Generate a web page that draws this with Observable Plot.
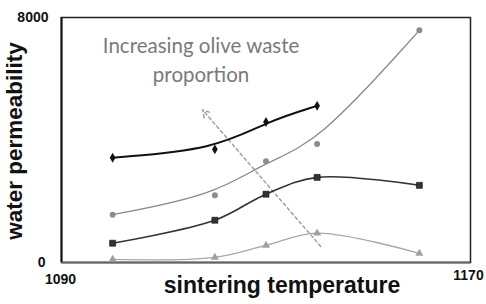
<!DOCTYPE html>
<html><head><meta charset="utf-8">
<script src="https://cdn.jsdelivr.net/npm/d3@7"></script>
<script src="https://cdn.jsdelivr.net/npm/@observablehq/plot@0.6"></script>
<style>
html,body{margin:0;padding:0;background:#fff;}
</style></head><body><div id="chart"></div>
<script>
const temps = [1100, 1120, 1130, 1140, 1160];
const diamondValues = [3420, 3695, 4590, 5115];
const circleValues = [1560, 2200, 3310, 3870, 7580];
const squareValues = [630, 1380, 2230, 2780, 2520];
const triangleValues = [100, 170, 560, 960, 300];
const xTicks = [1090, 1170];
const yTicks = [0, 8000];
const xLabel = "sintering temperature";
const yLabel = "water permeability";
const noteLines = ["Increasing olive waste", "proportion"];
const notePos = [1117.3, 7500];
const arrowFrom = [1140.7, 525];
const arrowTo = [1117.6, 4984];

const rows = (vals) => vals.map((v, i) => ({t: temps[i], v}));
const dia = rows(diamondValues), cir = rows(circleValues), sq = rows(squareValues), tri = rows(triangleValues);

const tickStyle = {tickSize: 0, fontSize: 14, fontWeight: "bold", label: null, fill: "#111", tickFormat: (d) => String(d)};

const chart = Plot.plot({
  width: 486, height: 304,
  marginLeft: 61, marginRight: 16, marginTop: 17, marginBottom: 42,
  x: {domain: [1090, 1170]},
  y: {domain: [0, 8000]},
  style: {fontFamily: "'Liberation Sans', Arial, sans-serif", background: "white"},
  marks: [
    Plot.frame({stroke: "#222", strokeWidth: 1.5}),
    Plot.ruleY([0], {stroke: "#666", strokeWidth: 2}),
    Plot.ruleX([1090], {stroke: "#111", strokeWidth: 2}),
    Plot.axisX([xTicks[0]], {...tickStyle, tickPadding: 12, dx: -1}),
    Plot.axisX([xTicks[1]], {...tickStyle, tickPadding: 8, dx: -2}),
    Plot.axisY([yTicks[0]], {...tickStyle, tickPadding: 16}),
    Plot.axisY([yTicks[1]], {...tickStyle, tickPadding: 13}),
    Plot.text([yLabel], {frameAnchor: "left", textAnchor: "middle", rotate: -90, dx: -47, dy: 1, fontSize: 22.5, fontWeight: "bold", fill: "#111"}),
    Plot.text([xLabel], {frameAnchor: "bottom", textAnchor: "middle", dy: 30, dx: 16, fontSize: 23, fontWeight: "bold", fill: "#111"}),
    Plot.text([noteLines.join("\n")], {x: () => notePos[0], y: () => notePos[1], textAnchor: "middle", lineAnchor: "top", lineHeight: 1.39, fontSize: 20.5, fontFamily: "Lato, 'Open Sans', sans-serif", fill: "#7a7a7a"}),
    Plot.arrow([0], {x1: () => arrowFrom[0], y1: () => arrowFrom[1], x2: () => arrowTo[0], y2: () => arrowTo[1], stroke: "#a0a0a0", strokeWidth: 1.5, strokeDasharray: "3,3", headLength: 8, bend: 0}),
    Plot.line(tri, {x: "t", y: "v", stroke: "#a8a8a8", strokeWidth: 1.3, curve: "catmull-rom"}),
    Plot.dot(tri, {x: "t", y: "v", symbol: "triangle", r: 3, fill: "#a0a0a0"}),
    Plot.line(sq, {x: "t", y: "v", stroke: "#333", strokeWidth: 1.6, curve: "catmull-rom"}),
    Plot.dot(sq, {x: "t", y: "v", symbol: "square", r: 3.4, fill: "#333", stroke: "#111", strokeWidth: 0.6}),
    Plot.line(cir, {x: "t", y: "v", stroke: "#8a8a8a", strokeWidth: 1.3, curve: "basis"}),
    Plot.dot(cir, {x: "t", y: "v", symbol: "circle", r: 3, fill: "#8c8c8c"}),
    Plot.line(dia, {x: "t", y: "v", stroke: "#111", strokeWidth: 2, curve: "basis"}),
    Plot.dot(dia, {x: "t", y: "v", symbol: "diamond", r: 3, fill: "#111"})
  ]
});
document.getElementById("chart").appendChild(chart);
</script>
</body></html>
